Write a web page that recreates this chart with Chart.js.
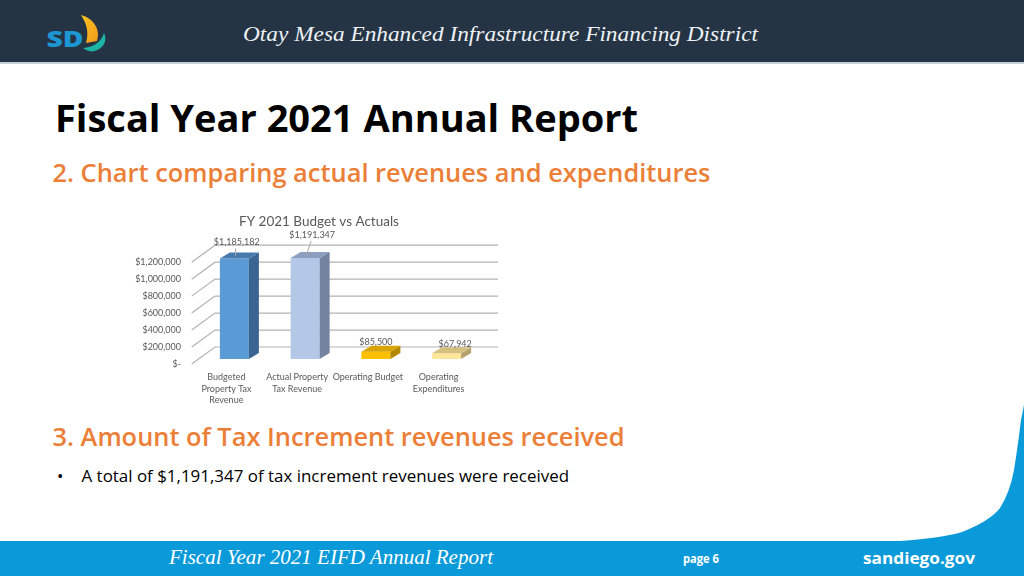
<!DOCTYPE html>
<html><head><meta charset="utf-8">
<script src="https://cdn.jsdelivr.net/npm/chart.js@4.4.1/dist/chart.umd.min.js"></script>
<style>
html,body{margin:0;padding:0;width:1024px;height:576px;overflow:hidden;background:#fff;}
#page{position:absolute;left:0;top:0;}
#wrap{position:absolute;left:0;top:0;width:1024px;height:576px;}
canvas{display:block;}
</style></head><body>
<svg id="page" width="1024" height="576" viewBox="0 0 1024 576" xmlns="http://www.w3.org/2000/svg">
  <defs>
    <linearGradient id="sail" x1="0" y1="0" x2="1" y2="1">
      <stop offset="0" stop-color="#FBC520"/>
      <stop offset="1" stop-color="#F29A1D"/>
    </linearGradient>
  </defs>
  <rect x="0" y="0" width="1024" height="62" fill="#253444"/>
  <rect x="0" y="62" width="1024" height="2" fill="#c7d0d8"/>
  <text x="46.5" y="47" textLength="37" lengthAdjust="spacingAndGlyphs" font-family="Open Sans" font-weight="800" font-size="22" fill="#1C97D4">SD</text>
  <path d="M81 15 C93 18 101 29 97 41 L86 43 C89 33 87 24 81 15 Z" fill="url(#sail)"/>
  <path d="M83 48 C94 47 101 42 104 33 C108 41 103 50 92 51.5 C89 51.5 86 50 83 48 Z" fill="#1DB3A5"/>
  <text x="243" y="41" textLength="515" lengthAdjust="spacingAndGlyphs" font-family="Liberation Serif" font-style="italic" font-size="22" fill="#eef2f5">Otay Mesa Enhanced Infrastructure Financing District</text>
  <text x="55" y="131.7" textLength="583" lengthAdjust="spacingAndGlyphs" font-family="Open Sans" font-weight="700" font-size="37.5" fill="#000">Fiscal Year 2021 Annual Report</text>
  <text x="52.5" y="182" textLength="658" lengthAdjust="spacingAndGlyphs" font-family="Open Sans" font-weight="600" font-size="25" fill="#EB7F38">2. Chart comparing actual revenues and expenditures</text>
  <text x="52.5" y="446" textLength="572" lengthAdjust="spacingAndGlyphs" font-family="Open Sans" font-weight="600" font-size="25" fill="#EB7F38">3. Amount of Tax Increment revenues received</text>
  <text x="57" y="481.5" font-family="Open Sans" font-size="17" fill="#000">•</text>
  <text x="81.5" y="481.5" textLength="487.5" lengthAdjust="spacingAndGlyphs" font-family="Open Sans" font-size="17" fill="#000">A total of $1,191,347 of tax increment revenues were received</text>
  <path d="M0 541 L900 541 Q943 538 962 532 Q990 521 1000 508 Q1010 492 1014 470 Q1018 445 1021 420 L1024 405 L1024 576 L0 576 Z" fill="#0B9AD9"/>
  <text x="169" y="564.3" textLength="324" lengthAdjust="spacingAndGlyphs" font-family="Liberation Serif" font-style="italic" font-size="21" fill="#ffffff">Fiscal Year 2021 EIFD Annual Report</text>
  <text x="683" y="562.5" textLength="36" lengthAdjust="spacingAndGlyphs" font-family="Open Sans" font-weight="700" font-size="12" fill="#ffffff">page 6</text>
  <text x="863" y="563.5" textLength="112" lengthAdjust="spacingAndGlyphs" font-family="Open Sans" font-weight="700" font-size="16.5" fill="#ffffff">sandiego.gov</text>
</svg>
<div id="wrap"><canvas id="c" width="1024" height="576"></canvas></div>
<script>
// ---- data ----
const categories = [
  ['Budgeted', 'Property Tax', 'Revenue'],
  ['Actual Property', 'Tax Revenue'],
  'Operating Budget',
  ['Operating', 'Expenditures']
];
const amounts = [1185182, 1191347, 85500, 67942];
const valueLabels = ['$1,185,182', '$1,191,347', '$85,500', '$67,942'];
const yTickValues = [0, 200000, 400000, 600000, 800000, 1000000, 1200000];
const yTickLabels = ['$-', '$200,000', '$400,000', '$600,000', '$800,000', '$1,000,000', '$1,200,000'];
const chartTitle = 'FY 2021 Budget vs Actuals';

// ---- styles ----
const frontColors = ['#5B9BD5', '#B4C7E7', '#FFC000', '#FFE699'];
const topColors   = ['#4679AD', '#8C9FBF', '#D9A300', '#D6C07F'];
const sideColors  = ['#3A6592', '#74839F', '#B38800', '#B5A26B'];
const labelOffsets = [[2.3, -16], [7, -23], [0, -10], [8.5, -9.4]];

Chart.defaults.font.family = 'Lato';
Chart.defaults.color = '#595959';

const excel3d = {
  id: 'excel3d',
  beforeDatasetsDraw(chart) {
    const {ctx, chartArea: a, scales: {y}} = chart;
    ctx.save();
    ctx.strokeStyle = '#b3b3b3';
    ctx.lineWidth = 1.2;
    yTickValues.forEach(v => {
      const py = y.getPixelForValue(v);
      ctx.beginPath();
      ctx.moveTo(a.left - 7.3, py + 5);
      ctx.lineTo(a.left + 16, py - 12);
      ctx.lineTo(a.right + 16, py - 12);
      ctx.stroke();
    });
    ctx.restore();
  },
  afterDatasetsDraw(chart) {
    const {ctx} = chart;
    const meta = chart.getDatasetMeta(0);
    const dx = 10, dy = -6;
    ctx.save();
    meta.data.forEach((bar, i) => {
      const {x, y, base, width} = bar.getProps(['x', 'y', 'base', 'width'], true);
      const l = x - width / 2, r = x + width / 2;
      ctx.fillStyle = sideColors[i];
      ctx.beginPath();
      ctx.moveTo(r, y); ctx.lineTo(r + dx, y + dy); ctx.lineTo(r + dx, base + dy); ctx.lineTo(r, base);
      ctx.closePath(); ctx.fill();
      ctx.fillStyle = topColors[i];
      ctx.beginPath();
      ctx.moveTo(l, y); ctx.lineTo(r, y); ctx.lineTo(r + dx, y + dy); ctx.lineTo(l + dx, y + dy);
      ctx.closePath(); ctx.fill();
    });
    ctx.font = '9px Lato';
    ctx.textAlign = 'center';
    ctx.textBaseline = 'middle';
    meta.data.forEach((bar, i) => {
      const {x, y} = bar.getProps(['x', 'y'], true);
      const lx = x + labelOffsets[i][0], ly = y + labelOffsets[i][1];
      if (labelOffsets[i][1] < -12) {
        ctx.strokeStyle = '#a6a6a6';
        ctx.lineWidth = 1;
        ctx.beginPath();
        ctx.moveTo(lx - 1, ly + 6);
        ctx.lineTo(x + 1, y - 2);
        ctx.stroke();
      }
      ctx.fillStyle = '#595959';
      ctx.fillText(valueLabels[i], lx, ly);
    });
    ctx.restore();
  }
};

new Chart(document.getElementById('c'), {
  type: 'bar',
  data: {
    labels: categories,
    datasets: [{
      data: amounts,
      backgroundColor: frontColors,
      borderWidth: 0,
      barPercentage: 0.41,
      categoryPercentage: 1
    }]
  },
  options: {
    responsive: false,
    animation: false,
    devicePixelRatio: 1,
    layout: {padding: {left: 109, right: 495, top: 213.2, bottom: 157}},
    plugins: {
      legend: {display: false},
      tooltip: {enabled: false},
      title: {
        display: true,
        text: chartTitle,
        color: '#595959',
        font: {family: 'Lato', size: 13.5, weight: 'normal', lineHeight: 1.2},
        padding: {top: 0, bottom: 27.8}
      }
    },
    scales: {
      x: {
        grid: {display: false, drawTicks: false},
        border: {display: false},
        ticks: {
          color: '#595959',
          font: {size: 9, lineHeight: 1.27},
          padding: 12.6,
          labelOffset: -8,
          maxRotation: 0,
          autoSkip: false
        },
        afterFit(s) { s.width = s.width; s.height = 60; }
      },
      y: {
        min: 0,
        max: 1200000,
        grid: {display: false, drawTicks: false},
        border: {display: false},
        ticks: {
          stepSize: 200000,
          color: '#595959',
          font: {size: 9},
          padding: 18,
          labelOffset: 5,
          callback: v => yTickLabels[yTickValues.indexOf(v)]
        },
        afterFit(s) { s.width = 90; }
      },
      spacer: {
        position: 'right',
        display: true,
        grid: {display: false, drawTicks: false},
        border: {display: false},
        ticks: {display: false},
        afterFit(s) { s.width = 47; }
      }
    }
  },
  plugins: [excel3d]
});
</script>
</body></html>
